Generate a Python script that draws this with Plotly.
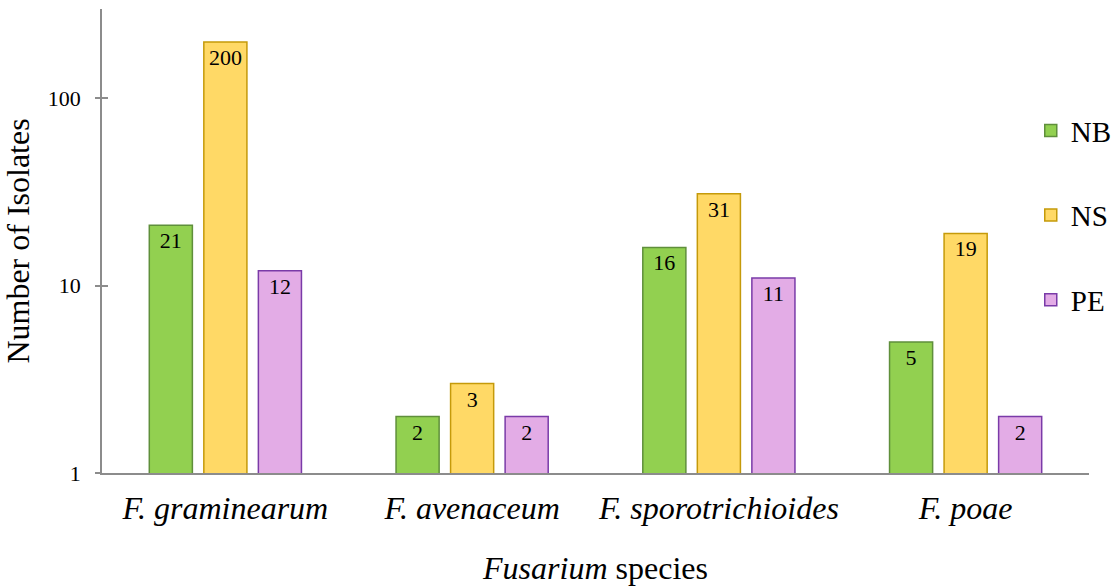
import plotly.graph_objects as go

categories = ["<i>F. graminearum</i>", "<i>F. avenaceum</i>", "<i>F. sporotrichioides</i>", "<i>F. poae</i>"]
nb_values = [21, 2, 16, 5]
ns_values = [200, 3, 31, 19]
pe_values = [12, 2, 11, 2]
y_tick_vals = [1, 10, 100]
y_tick_text = ["1", "10", "100"]

FONT = "Liberation Serif"

series = [
    ("NB", nb_values, "#92D050", "#5F8F3B"),
    ("NS", ns_values, "#FFD966", "#C59A0A"),
    ("PE", pe_values, "#E3ACE6", "#7A3BA8"),
]

fig = go.Figure()
for i, (name, vals, fill, line) in enumerate(series):
    fig.add_trace(go.Bar(
        name=name, x=categories, y=vals,
        marker=dict(color=fill, line=dict(color=line, width=1.5)),
        text=[str(v) for v in vals],
        textposition="inside", insidetextanchor="end", textangle=0,
        textfont=dict(family=FONT, size=22, color="black"),
        insidetextfont=dict(family=FONT, size=22, color="black"),
        legendgroup=name,
    ))

fig.update_layout(
    width=1120, height=586,
    margin=dict(l=102, r=31, t=9, b=113, autoexpand=False),
    paper_bgcolor="white", plot_bgcolor="white",
    barmode="group", bargap=0.337, bargroupgap=0.21,
    font=dict(family=FONT, color="black"),
    showlegend=True,
    legend=dict(
        x=0.941, xanchor="left", y=0.793, yanchor="top",
        font=dict(family=FONT, size=29, color="black"),
        traceorder="grouped", tracegroupgap=44,
        bgcolor="rgba(0,0,0,0)", itemwidth=30,
    ),
)

fig.update_xaxes(
    showline=True, linecolor="#8c8c8c", linewidth=1.5,
    ticks="", showgrid=False, zeroline=False,
    tickfont=dict(family=FONT, size=32, color="black"),
    ticklabelstandoff=6, automargin=False,
    title=dict(text="<i>Fusarium</i> species", font=dict(family=FONT, size=32, color="black"), standoff=38),
)
fig.update_yaxes(
    type="log", range=[0, 2.477],
    showline=True, linecolor="#8c8c8c", linewidth=1.5,
    ticks="outside", ticklen=5, tickcolor="#8c8c8c", tickwidth=1.5,
    tickvals=y_tick_vals, ticktext=y_tick_text,
    showgrid=False, zeroline=False,
    tickfont=dict(family=FONT, size=22, color="black"),
    ticklabelstandoff=10, automargin=False,
    title=dict(text="Number of Isolates", font=dict(family=FONT, size=32, color="black"), standoff=18),
)
# inner half of the crossing tick marks
fig.update_layout(yaxis2=dict(
    overlaying="y", side="left", type="log", range=[0, 2.477],
    tickvals=y_tick_vals, showticklabels=False, ticks="inside", ticklen=6,
    tickcolor="#8c8c8c", tickwidth=1.5, showline=False, showgrid=False, zeroline=False,
))
fig.add_trace(go.Scatter(x=[None], y=[None], yaxis="y2", showlegend=False, hoverinfo="skip"))

fig.write_html("out.html")
